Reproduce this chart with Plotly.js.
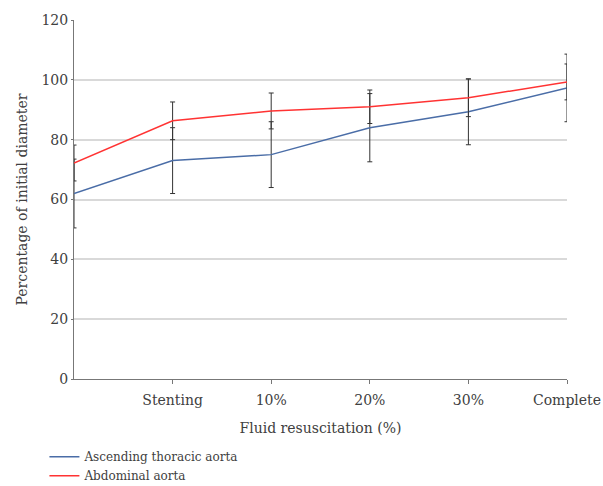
<!DOCTYPE html>
<html>
<head>
<meta charset="utf-8">
<script src="https://cdn.plot.ly/plotly-3.0.1.min.js"></script>
<style>html,body{margin:0;padding:0;background:#fff;}#chart{width:603px;height:486px;}</style>
</head>
<body>
<div id="chart"></div>
<script>
const categories = ["", "Stenting", "10%", "20%", "30%", "Complete"];
const ascending = [62, 73, 75, 84, 89.3, 97.3];
const ascendingErr = [11.5, 11, 11, 11.4, 11, 11.3];
const abdominal = [72.2, 86.3, 89.6, 91, 94, 99.3];
const abdominalErr = [6, 6.3, 6, 5.6, 6.3, 6];
const yTicks = [0, 20, 40, 60, 80, 100, 120];

const xIdx = categories.map((c, i) => i);
const font = {family: "DejaVu Serif, Liberation Serif, serif", size: 14, color: "#404040"};

const traces = [
  {x: xIdx, y: ascending, name: "Ascending thoracic aorta", mode: "lines",
   line: {color: "#4a6da7", width: 1.5},
   error_y: {type: "data", array: ascendingErr, visible: true, color: "#333", thickness: 1, width: 2.5}},
  {x: xIdx, y: abdominal, name: "Abdominal aorta", mode: "lines",
   line: {color: "#ff3333", width: 1.5},
   error_y: {type: "data", array: abdominalErr, visible: true, color: "#333", thickness: 1, width: 2.5}}
];

const layout = {
  width: 603, height: 486,
  margin: {l: 74, r: 36, t: 20, b: 107, autoexpand: false},
  paper_bgcolor: "#fff", plot_bgcolor: "#fff",
  font: font,
  showlegend: true,
  legend: {x: -0.06, y: -0.176, xanchor: "left", yanchor: "top", orientation: "v",
           font: {family: font.family, size: 12, color: "#404040"}, tracegroupgap: 0, itemwidth: 30},
  xaxis: {range: [0, categories.length - 1], tickvals: xIdx.slice(1), ticktext: categories.slice(1),
          showgrid: false, zeroline: false, showline: true, linecolor: "#777", linewidth: 1,
          ticks: "outside", ticklen: 4, tickcolor: "#777", tickfont: font, automargin: false,
          ticklabelstandoff: 4,
          title: {text: "Fluid resuscitation (%)", font: font, standoff: 16}},
  yaxis: {range: [0, 120], tickvals: yTicks, showgrid: true, gridcolor: "#d9d9d9", gridwidth: 2,
          zeroline: false, showline: true, linecolor: "#777", linewidth: 1, automargin: false,
          ticks: "outside", ticklen: 2, tickcolor: "#777", tickfont: font,
          title: {text: "Percentage of initial diameter", font: font, standoff: 10}}
};

Plotly.newPlot("chart", traces, layout, {displayModeBar: false, staticPlot: true});
</script>
</body>
</html>
